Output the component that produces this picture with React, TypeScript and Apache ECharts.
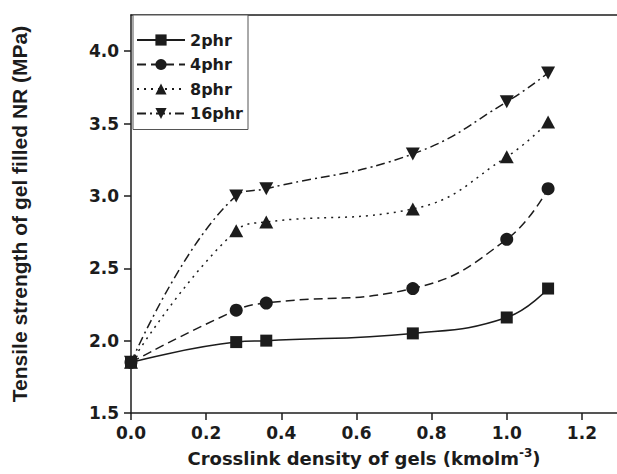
import React, { useEffect, useRef } from "react";
import * as echarts from "echarts";

const crosslink = [0, 0.28, 0.36, 0.75, 1.0, 1.11];
const phr2 = [1.85, 1.99, 2.0, 2.05, 2.16, 2.36];
const phr4 = [1.85, 2.21, 2.26, 2.36, 2.7, 3.05];
const phr8 = [1.85, 2.76, 2.82, 2.91, 3.27, 3.51];
const phr16 = [1.85, 3.0, 3.05, 3.29, 3.65, 3.85];
const seriesNames = ["2phr", "4phr", "8phr", "16phr"];
const xTicks = [0, 0.2, 0.4, 0.6, 0.8, 1.0, 1.2];
const yTicks = [1.5, 2.0, 2.5, 3.0, 3.5, 4.0];

const INK = "#1c1c1c";
const FONT = "DejaVu Sans";

export default function App() {
  const ref = useRef<HTMLDivElement>(null);
  useEffect(() => {
    if (!ref.current) return;
    const chart = echarts.init(ref.current, null, { renderer: "svg" });
    const values = [phr2, phr4, phr8, phr16];
    const symbols = [
      "rect",
      "circle",
      "triangle",
      "path://M0,0 L20,0 L10,17 Z",
    ];
    const sizes: any[] = [12, 13, [14, 13], [14, 13]];
    const dashes: any[] = ["solid", [9, 5], [2, 5], [9, 4, 2, 4]];
    chart.setOption({
      animation: false,
      backgroundColor: "#ffffff",
      grid: {
        left: 131,
        right: -10,
        top: 15,
        bottom: 61,
        outerBoundsMode: "none",
        containLabel: false,
        show: false,
      },
      legend: {
        orient: "vertical",
        left: 133,
        top: 15,
        data: seriesNames,
        itemWidth: 48,
        itemHeight: 14,
        itemGap: 8.5,
        padding: [17, 5, 8, 3],
        borderColor: "#555",
        borderWidth: 1,
        backgroundColor: "#fff",
        textStyle: {
          fontFamily: FONT,
          fontWeight: "bold",
          fontSize: 16,
          lineHeight: 16,
          color: INK,
        },
      },
      xAxis: [
        {
          type: "value",
          min: 0,
          max: 1.32,
          interval: 0.2,
          name: "{a|Crosslink density of gels (kmolm}{s|-3}{a|)}",
          nameLocation: "middle",
          nameGap: 34,
          nameTextStyle: {
            padding: [0, 30, 0, 0],
            rich: {
              a: { fontFamily: FONT, fontWeight: "bold", fontSize: 18, color: INK },
              s: {
                fontFamily: FONT,
                fontWeight: "bold",
                fontSize: 12,
                color: INK,
                verticalAlign: "top",
                padding: [0, 0, 10, 0],
              },
            },
          },
          axisLine: { show: true, lineStyle: { color: INK, width: 1.5 } },
          axisTick: {
            show: true,
            length: 7,
            customValues: xTicks,
            lineStyle: { color: INK, width: 1.5 },
          },
          axisLabel: {
            customValues: xTicks,
            formatter: (v: number) => v.toFixed(1),
            margin: 11,
            fontFamily: FONT,
            fontWeight: "bold",
            fontSize: 17,
            color: INK,
          },
          splitLine: { show: false },
        },
        {
          type: "value",
          position: "top",
          min: 0,
          max: 1.32,
          axisLine: { show: true, onZero: false, lineStyle: { color: INK, width: 1.5 } },
          axisTick: { show: false },
          axisLabel: { show: false },
          splitLine: { show: false },
        },
      ],
      yAxis: {
        type: "value",
        min: 1.5,
        max: 4.25,
        name: "Tensile strength of gel filled NR (MPa)",
        nameLocation: "middle",
        nameGap: 101,
        nameTextStyle: {
          fontFamily: "Liberation Sans",
          fontWeight: "bold",
          fontSize: 21,
          color: INK,
        },
        axisLine: { show: true, lineStyle: { color: INK, width: 1.5 } },
        axisTick: {
          show: true,
          length: 7,
          customValues: yTicks,
          lineStyle: { color: INK, width: 1.5 },
        },
        axisLabel: {
          customValues: yTicks,
          formatter: (v: number) => v.toFixed(1),
          margin: 12,
          fontFamily: FONT,
          fontWeight: "bold",
          fontSize: 17,
          color: INK,
        },
        splitLine: { show: false },
      },
      series: seriesNames.map((name, i) => ({
        name,
        type: "line",
        xAxisIndex: 0,
        data: crosslink.map((x, j) => [x, values[i][j]]),
        smooth: 0.45,
        symbol: symbols[i],
        symbolSize: sizes[i],
        clip: false,
        lineStyle: { color: INK, width: 1.5, type: dashes[i] },
        itemStyle: { color: INK, borderWidth: 0 },
        z: 10 - i,
      })),
    });
    return () => chart.dispose();
  }, []);
  return (
    <div
      ref={ref}
      style={{ position: "fixed", left: 0, top: 0, width: 617, height: 474 }}
    />
  );
}
